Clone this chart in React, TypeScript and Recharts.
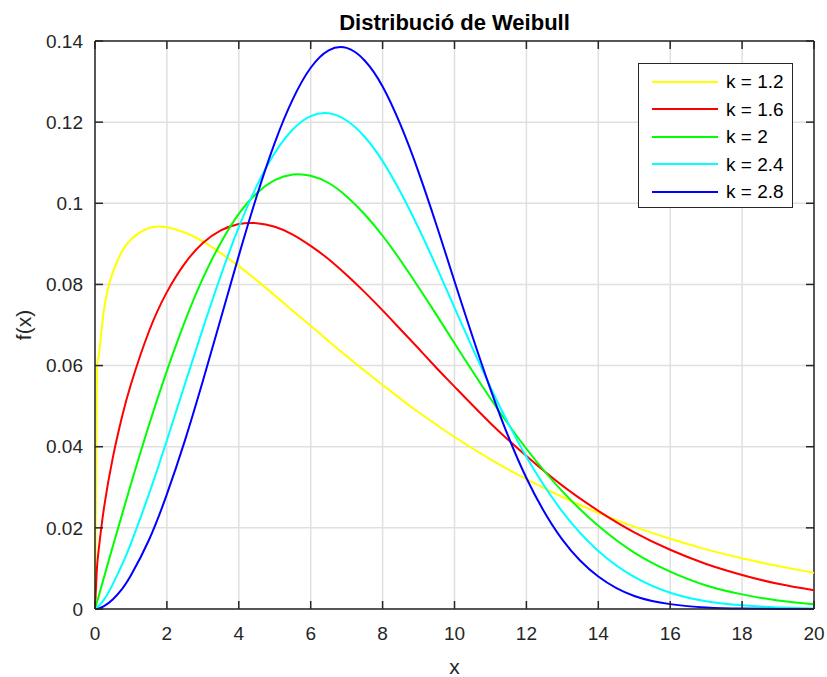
import { CartesianGrid, Label, Legend, Line, LineChart, ReferenceLine, XAxis, YAxis } from "recharts"

const W = 827
const H = 677
const TOP = 41
const BOTTOM = 609
const LEFT = 95
const RIGHT = 814
const AXIS = "#262626"
const FONT = "'Liberation Sans', Arial, Helvetica, sans-serif"

const xs = [
  0, 0.05, 0.1, 0.25, 0.5, 0.75, 1, 1.5, 2, 2.5, 3, 3.5, 4, 4.5, 5, 5.5, 6, 6.5, 7, 7.5, 8, 8.5, 9, 9.5, 10,
  11, 12, 13, 14, 15, 16, 17, 18, 19, 20,
]

const k12 = [
  0, 0.0542, 0.0621, 0.0738, 0.0831, 0.0881, 0.0911, 0.0939, 0.0941, 0.0928, 0.0906, 0.0877, 0.0845, 0.081, 0.0773,
  0.0735, 0.0698, 0.066, 0.0623, 0.0587, 0.0552, 0.0518, 0.0485, 0.0454, 0.0424, 0.0369, 0.032, 0.0276, 0.0237,
  0.0203, 0.0173, 0.0147, 0.0125, 0.0106, 0.0089,
]
const k16 = [
  0, 0.0095, 0.0144, 0.0249, 0.0375, 0.0473, 0.0554, 0.0684, 0.0781, 0.0852, 0.0902, 0.0933, 0.0949, 0.0951, 0.0942,
  0.0923, 0.0895, 0.0862, 0.0823, 0.0781, 0.0736, 0.0689, 0.0642, 0.0594, 0.0548, 0.0458, 0.0377, 0.0304, 0.0242,
  0.0189, 0.0146, 0.0111, 0.0084, 0.0062, 0.0046,
]
const k20 = [
  0, 0.0016, 0.0031, 0.0078, 0.0156, 0.0232, 0.0308, 0.0453, 0.0587, 0.0709, 0.0815, 0.0903, 0.0974, 0.1025, 0.1057,
  0.1071, 0.1068, 0.105, 0.1017, 0.0973, 0.092, 0.0859, 0.0793, 0.0725, 0.0655, 0.0519, 0.0395, 0.029, 0.0205,
  0.0139, 0.0092, 0.0058, 0.0036, 0.0021, 0.0012,
]
const k24 = [
  0, 0.0002, 0.0007, 0.0023, 0.0062, 0.0109, 0.0162, 0.0283, 0.0416, 0.0554, 0.0691, 0.0822, 0.0941, 0.1043, 0.1124,
  0.1182, 0.1215, 0.1222, 0.1204, 0.1164, 0.1104, 0.1027, 0.0939, 0.0843, 0.0743, 0.0547, 0.0375, 0.024, 0.0143,
  0.0079, 0.004, 0.0019, 0.0009, 0.0004, 0.0001,
]
const k28 = [
  0, 0, 0.0001, 0.0007, 0.0024, 0.0049, 0.0083, 0.017, 0.0283, 0.0415, 0.0562, 0.0716, 0.0871, 0.1018, 0.1149,
  0.1256, 0.1334, 0.1377, 0.1383, 0.1352, 0.1288, 0.1193, 0.1077, 0.0946, 0.0808, 0.0542, 0.0323, 0.0171, 0.008,
  0.0032, 0.0012, 0.0004, 0.0001, 0, 0,
]

const xTicks = [0, 2, 4, 6, 8, 10, 12, 14, 16, 18, 20]
const yTicks = [0, 0.02, 0.04, 0.06, 0.08, 0.1, 0.12, 0.14]

const series = [
  { key: "k12", name: "k = 1.2", color: "#ffff00" },
  { key: "k16", name: "k = 1.6", color: "#ff0000" },
  { key: "k20", name: "k = 2", color: "#00ff00" },
  { key: "k24", name: "k = 2.4", color: "#00ffff" },
  { key: "k28", name: "k = 2.8", color: "#0000ff" },
]

const data = xs.map((x, i) => ({ x, k12: k12[i], k16: k16[i], k20: k20[i], k24: k24[i], k28: k28[i] }))

// matlab style ticks: pointing inwards on both sides of the box
function XTick(props: any) {
  const { x, y, payload } = props
  return (
    <g>
      <line x1={x} x2={x} y1={BOTTOM} y2={BOTTOM - 8} stroke={AXIS} strokeWidth={1.5} />
      <line x1={x} x2={x} y1={TOP} y2={TOP + 8} stroke={AXIS} strokeWidth={1.5} />
      <text x={x} y={y} dy="0.71em" textAnchor="middle" fill={AXIS} fontSize={19} fontFamily={FONT}>
        {payload.value}
      </text>
    </g>
  )
}

function YTick(props: any) {
  const { x, y, payload } = props
  return (
    <g>
      <line x1={LEFT} x2={LEFT + 8} y1={y} y2={y} stroke={AXIS} strokeWidth={1.5} />
      <line x1={RIGHT} x2={RIGHT - 8} y1={y} y2={y} stroke={AXIS} strokeWidth={1.5} />
      <text x={x} y={y} dy="0.355em" textAnchor="end" fill={AXIS} fontSize={19} fontFamily={FONT}>
        {String(+Number(payload.value).toFixed(2))}
      </text>
    </g>
  )
}

function YLabel(props: any) {
  const vb = props.viewBox
  const cx = vb.x + 23
  const cy = vb.y + vb.height / 2
  return (
    <text
      x={cx}
      y={cy}
      transform={`rotate(-90, ${cx}, ${cy})`}
      textAnchor="middle"
      dominantBaseline="central"
      fill={AXIS}
      fontSize={21}
      fontFamily={FONT}
    >
      f(x)
    </text>
  )
}

function LegendBox(props: any) {
  const { payload } = props
  return (
    <div
      style={{
        width: 155,
        height: 145,
        boxSizing: "border-box",
        border: `1px solid ${AXIS}`,
        background: "#fff",
        padding: "4px 0",
        fontFamily: FONT,
        fontSize: 19,
        color: "#000",
      }}
    >
      {(payload || []).map((e: any) => (
        <div key={e.value} style={{ display: "flex", alignItems: "center", height: 27.5 }}>
          <span style={{ marginLeft: 13, width: 66, height: 2, background: e.color }} />
          <span style={{ marginLeft: 8, lineHeight: "19px" }}>{e.value}</span>
        </div>
      ))}
    </div>
  )
}

export default function App() {
  return (
    <div style={{ position: "absolute", left: 0, top: 0, width: W, height: H, background: "#fff" }}>
      <LineChart width={W} height={H} data={data} margin={{ top: TOP, right: W - RIGHT, left: 0, bottom: 0 }}>
        <CartesianGrid stroke="#e0e0e0" strokeWidth={1.5} />
        <XAxis
          dataKey="x"
          type="number"
          domain={[0, 20]}
          ticks={xTicks}
          interval={0}
          height={H - BOTTOM}
          tickSize={0}
          tickMargin={18}
          tickLine={false}
          axisLine={{ stroke: AXIS, strokeWidth: 1.5 }}
          tick={XTick}
        >
          <Label value="x" position="insideBottom" offset={3} fill={AXIS} fontSize={21} fontFamily={FONT} />
        </XAxis>
        <YAxis
          type="number"
          domain={[0, 0.14]}
          ticks={yTicks}
          interval={0}
          width={LEFT}
          tickSize={0}
          tickMargin={12}
          tickLine={false}
          axisLine={{ stroke: AXIS, strokeWidth: 1.5 }}
          tick={YTick}
        >
          <Label content={YLabel} />
        </YAxis>
        <ReferenceLine y={0.14} stroke={AXIS} strokeWidth={1.5} />
        <ReferenceLine x={20} stroke={AXIS} strokeWidth={1.5} />
        {series.map((s) => (
          <Line
            key={s.key}
            dataKey={s.key}
            name={s.name}
            stroke={s.color}
            strokeWidth={2}
            type="natural"
            dot={false}
            activeDot={false}
            isAnimationActive={false}
          />
        ))}
        <Legend
          layout="vertical"
          align="center"
          verticalAlign="middle"
          content={LegendBox}
          wrapperStyle={{ left: 638, top: 63, width: 155 }}
        />
      </LineChart>
      <div
        style={{
          position: "absolute",
          top: 12,
          left: LEFT,
          width: RIGHT - LEFT,
          textAlign: "center",
          fontFamily: FONT,
          fontWeight: "bold",
          fontSize: 22,
          lineHeight: "22px",
          color: "#000",
        }}
      >
        Distribució de Weibull
      </div>
    </div>
  )
}
